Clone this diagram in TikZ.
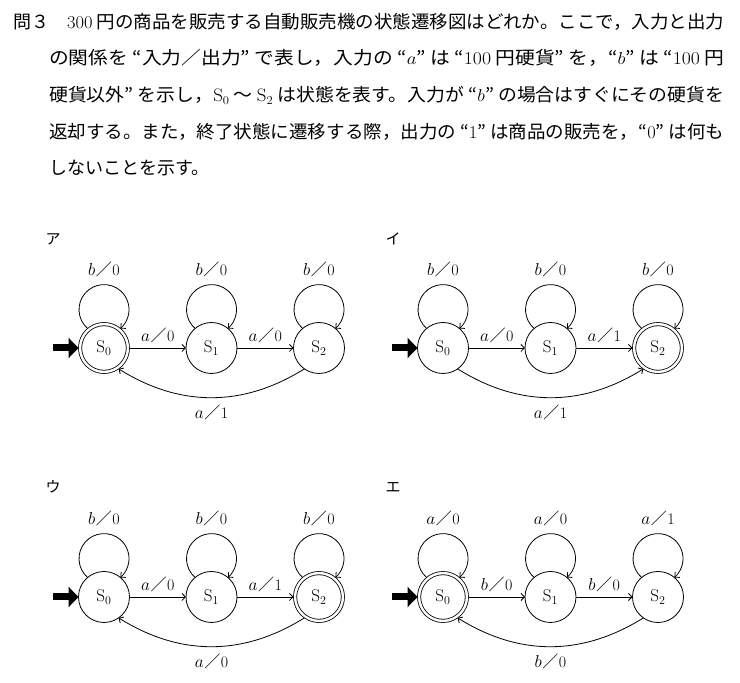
\documentclass[tikz,border=0pt]{standalone}
\usepackage{graphicx}
\usepackage{fontspec}
\newfontfamily\cjk{Noto Sans CJK JP}
\usetikzlibrary{
	positioning,
	arrows.meta
}
\newcommand{\io}[2]{$#1$\kern0.5pt{\cjk ／}\kern0.5pt#2}
\newcommand{\lat}[1]{{\rmfamily #1}}

\begin{document}
\begin{tikzpicture}[x=1pt,y=1pt,node distance=56.5pt,
	state/.style={circle,draw,line width=0.8pt,minimum size=51pt,inner sep=0pt,outer sep=0pt,font=\fontsize{17}{20}\selectfont},
	final/.style={state,double,double distance=2.4pt,minimum size=47.8pt,outer sep=1.6pt},
	edge/.style={line width=0.8pt,-{Straight Barb[length=3.5pt,width=7pt]}},
	init/.style={line width=7pt,-{Triangle[length=10pt,width=20pt]}},
	lbl/.style={inner sep=2pt,font=\fontsize{16}{19}\selectfont},
	tag/.style={inner sep=0pt,font=\cjk\fontsize{15}{18}\selectfont},
	txt/.style={inner sep=0pt,anchor=base west,font=\cjk\fontsize{18}{22}\selectfont}]
	\useasboundingbox (0,0) rectangle (740,683);

	\node[txt] (q_no) at (13,654.7) {問３};
	\node[txt] (line1) at (67,654.7) {\resizebox{657pt}{\height}{\lat{300} 円の商品を販売する自動販売機の状態遷移図はどれか。ここで，入力と出力}};
	\node[txt] (line2) at (49,618.1) {\resizebox{675pt}{\height}{の関係を “入力／出力” で表し，入力の “$a$” は “\lat{100} 円硬貨” を，“$b$” は “\lat{100} 円}};
	\node[txt] (line3) at (49,581.5) {\resizebox{675pt}{\height}{硬貨以外” を示し，$\mathrm{S}_0$ ～ $\mathrm{S}_2$ は状態を表す。入力が “$b$” の場合はすぐにその硬貨を}};
	\node[txt] (line4) at (49,544.9) {\resizebox{675pt}{\height}{返却する。また，終了状態に遷移する際，出力の “\lat{1}” は商品の販売を，“\lat{0}” は何も}};
	\node[txt] (line5) at (49,508.2) {しないことを示す。};

	\node[tag] (tag_A) at (53,444) {ア};
	\node[final] (s0_A) at (104,335) {$\mathrm{S}_0$};
	\node[state, right=of s0_A] (s1_A) {$\mathrm{S}_1$};
	\node[state, right=of s1_A] (s2_A) {$\mathrm{S}_2$};
	\coordinate[left=25.5pt of s0_A] (in_A);

	\draw[init] (in_A) -- (s0_A);
	\draw[edge] (s0_A) -- node[lbl,above=3pt] (e01_A) {\io{a}{0}} (s1_A);
	\draw[edge] (s1_A) -- node[lbl,above=3pt] (e12_A) {\io{a}{0}} (s2_A);
	\draw[edge] (s2_A.235) to[bend left=32] node[lbl,below=5pt] (e20_A) {\io{a}{1}} (s0_A.305);
	\draw[edge] (s0_A.130) arc[start angle=229,end angle=-49,radius=25pt];
	\draw[edge] (s1_A.130) arc[start angle=229,end angle=-49,radius=25pt];
	\draw[edge] (s2_A.130) arc[start angle=229,end angle=-49,radius=25pt];
	\node[lbl] (l0_A) at ([yshift=79pt]s0_A.center) {\io{b}{0}};
	\node[lbl] (l1_A) at ([yshift=79pt]s1_A.center) {\io{b}{0}};
	\node[lbl] (l2_A) at ([yshift=79pt]s2_A.center) {\io{b}{0}};

	\node[tag] (tag_B) at (393,444) {イ};
	\node[state] (s0_B) at (443,335) {$\mathrm{S}_0$};
	\node[state, right=of s0_B] (s1_B) {$\mathrm{S}_1$};
	\node[final, right=of s1_B] (s2_B) {$\mathrm{S}_2$};
	\coordinate[left=25.5pt of s0_B] (in_B);

	\draw[init] (in_B) -- (s0_B);
	\draw[edge] (s0_B) -- node[lbl,above=3pt] (e01_B) {\io{a}{0}} (s1_B);
	\draw[edge] (s1_B) -- node[lbl,above=3pt] (e12_B) {\io{a}{1}} (s2_B);
	\draw[edge] (s0_B.305) to[bend right=32] node[lbl,below=5pt] (e02_B) {\io{a}{1}} (s2_B.235);
	\draw[edge] (s0_B.130) arc[start angle=229,end angle=-49,radius=25pt];
	\draw[edge] (s1_B.130) arc[start angle=229,end angle=-49,radius=25pt];
	\draw[edge] (s2_B.130) arc[start angle=229,end angle=-49,radius=25pt];
	\node[lbl] (l0_B) at ([yshift=79pt]s0_B.center) {\io{b}{0}};
	\node[lbl] (l1_B) at ([yshift=79pt]s1_B.center) {\io{b}{0}};
	\node[lbl] (l2_B) at ([yshift=79pt]s2_B.center) {\io{b}{0}};

	\node[tag] (tag_C) at (53,196) {ウ};
	\node[state] (s0_C) at (104,86) {$\mathrm{S}_0$};
	\node[state, right=of s0_C] (s1_C) {$\mathrm{S}_1$};
	\node[final, right=of s1_C] (s2_C) {$\mathrm{S}_2$};
	\coordinate[left=25.5pt of s0_C] (in_C);

	\draw[init] (in_C) -- (s0_C);
	\draw[edge] (s0_C) -- node[lbl,above=3pt] (e01_C) {\io{a}{0}} (s1_C);
	\draw[edge] (s1_C) -- node[lbl,above=3pt] (e12_C) {\io{a}{1}} (s2_C);
	\draw[edge] (s2_C.235) to[bend left=32] node[lbl,below=5pt] (e20_C) {\io{a}{0}} (s0_C.305);
	\draw[edge] (s0_C.130) arc[start angle=229,end angle=-49,radius=25pt];
	\draw[edge] (s1_C.130) arc[start angle=229,end angle=-49,radius=25pt];
	\draw[edge] (s2_C.130) arc[start angle=229,end angle=-49,radius=25pt];
	\node[lbl] (l0_C) at ([yshift=79pt]s0_C.center) {\io{b}{0}};
	\node[lbl] (l1_C) at ([yshift=79pt]s1_C.center) {\io{b}{0}};
	\node[lbl] (l2_C) at ([yshift=79pt]s2_C.center) {\io{b}{0}};

	\node[tag] (tag_D) at (393,196) {エ};
	\node[final] (s0_D) at (443,86) {$\mathrm{S}_0$};
	\node[state, right=of s0_D] (s1_D) {$\mathrm{S}_1$};
	\node[state, right=of s1_D] (s2_D) {$\mathrm{S}_2$};
	\coordinate[left=25.5pt of s0_D] (in_D);

	\draw[init] (in_D) -- (s0_D);
	\draw[edge] (s0_D) -- node[lbl,above=3pt] (e01_D) {\io{b}{0}} (s1_D);
	\draw[edge] (s1_D) -- node[lbl,above=3pt] (e12_D) {\io{b}{0}} (s2_D);
	\draw[edge] (s2_D.235) to[bend left=32] node[lbl,below=5pt] (e20_D) {\io{b}{0}} (s0_D.305);
	\draw[edge] (s0_D.130) arc[start angle=229,end angle=-49,radius=25pt];
	\draw[edge] (s1_D.130) arc[start angle=229,end angle=-49,radius=25pt];
	\draw[edge] (s2_D.130) arc[start angle=229,end angle=-49,radius=25pt];
	\node[lbl] (l0_D) at ([yshift=79pt]s0_D.center) {\io{a}{0}};
	\node[lbl] (l1_D) at ([yshift=79pt]s1_D.center) {\io{a}{0}};
	\node[lbl] (l2_D) at ([yshift=79pt]s2_D.center) {\io{a}{1}};
\end{tikzpicture}
\end{document}
